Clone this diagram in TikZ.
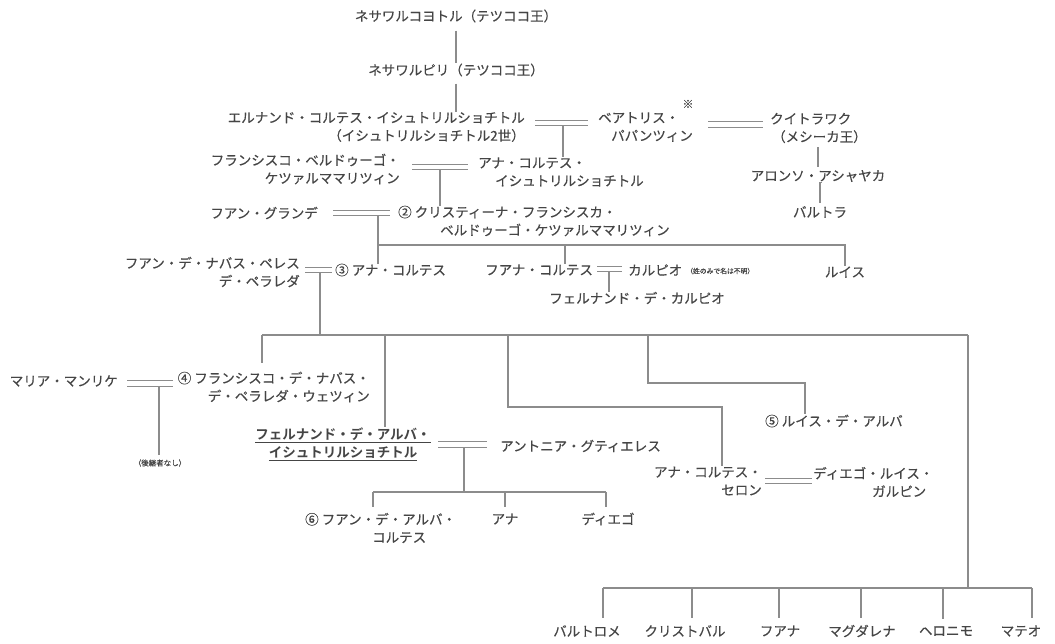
\documentclass[tikz,border=0pt]{standalone}
\usepackage{fontspec}
\newfontfamily\jp[FakeBold=0.35]{Noto Sans CJK JP}
\newfontfamily\jpb{Noto Sans CJK JP Bold}
\definecolor{txtc}{HTML}{454545}
\definecolor{linec}{HTML}{8C8C8C}
\begin{document}
\begin{tikzpicture}[x=1pt,y=-1pt,
  nm/.style={inner sep=0pt, text=txtc, font=\jp\fontsize{13.5}{18}\selectfont},
  ln/.style={draw=linec, line width=1.1pt},
  dbl/.style={draw=linec, line width=1pt, double=white, double distance=4.2pt},
]
\fill[white] (0,0) rectangle (1055,643);
\useasboundingbox (0,0) rectangle (1055,643);

% ---- nodes ----
\node[nm] (A) at (456,16) {ネサワルコヨトル（テツココ王）};
\node[nm] (B) at (456,70) {ネサワルピリ（テツココ王）};
\node[nm, anchor=east, align=right] (C) at (525,127) {エルナンド・コルテス・イシュトリルショチトル\\（イシュトリルショチトル2世）};
\node[nm, anchor=west, align=left] (D) at (598,127) {ベアトリス・\\\hspace*{13pt}パパンツィン};
\node[nm, font=\jp\fontsize{11}{11}\selectfont] (Dn) at (688,104) {※};
\node[nm, anchor=west, align=left] (E) at (770,128) {クイトラワク\\\hspace*{2pt}（メシーカ王）};
\node[nm] (F) at (818,176) {アロンソ・アシャヤカ};
\node[nm] (G) at (820,212) {バルトラ};
\node[nm, anchor=east, align=right] (H) at (400,169) {フランシスコ・ベルドゥーゴ・\\ケツァルママリツィン};
\node[nm, anchor=west, align=left] (I) at (478,172) {アナ・コルテス・\\\hspace*{17pt}イシュトリルショチトル};
\node[nm, anchor=east] (J) at (318,213) {フアン・グランデ};
\node[nm, anchor=west, align=left] (K) at (398,221) {② クリスティーナ・フランシスカ・\\\hspace*{42pt}ベルドゥーゴ・ケツァルママリツィン};
\node[nm, anchor=east, align=right] (M) at (300,272) {フアン・デ・ナバス・ペレス\\デ・ペラレダ};
\node[nm, anchor=west] (L) at (335,270) {③ アナ・コルテス};
\node[nm, anchor=west] (N) at (485,270) {フアナ・コルテス};
\node[nm, anchor=west] (O) at (628,270) {カルピオ};
\node[nm, anchor=west, font=\jp\fontsize{6.8}{7}\selectfont] (On) at (686,271) {（姓のみで名は不明）};
\node[nm] (P) at (637,298) {フェルナンド・デ・カルピオ};
\node[nm] (Q) at (845,272) {ルイス};
\node[nm, anchor=east, align=right] (R) at (370,387) {④ フランシスコ・デ・ナバス・\\デ・ペラレダ・ウェツィン};
\node[nm, anchor=east] (V) at (118,381) {マリア・マンリケ};
\node[nm, font=\jp\fontsize{7.5}{8}\selectfont] (Vn) at (160,463) {（後継者なし）};
\node[nm, align=center, font=\jpb\fontsize{13.5}{18}\selectfont] (S) at (343,444) {\underline{フェルナンド・デ・アルバ・}\\\underline{イシュトリルショチトル}};
\node[nm, anchor=west] (W) at (500,446) {アントニア・グティエレス};
\node[nm, anchor=west, align=left] (X) at (305,528) {⑥ フアン・デ・アルバ・\\\hspace*{67pt}コルテス};
\node[nm] (Y) at (505,519) {アナ};
\node[nm] (Z) at (608,519) {ディエゴ};
\node[nm, anchor=west] (U) at (765,421) {⑤ ルイス・デ・アルバ};
\node[nm, anchor=east, align=right] (T) at (762,481) {アナ・コルテス・\\セロン};
\node[nm, anchor=west, align=left] (AA) at (813,482) {ディエゴ・ルイス・\\\hspace*{59pt}ガルピン};
\node[nm] (b1) at (587,631) {バルトロメ};
\node[nm] (b2) at (685,631) {クリストバル};
\node[nm] (b3) at (780,631) {フアナ};
\node[nm] (b4) at (862,631) {マグダレナ};
\node[nm] (b5) at (946,631) {ヘロニモ};
\node[nm] (b6) at (1021,631) {マテオ};

% ---- coordinates ----
\coordinate (cd1) at (535,123);   \coordinate (cd2) at (588,123);   \coordinate (cdm) at (563,125.6);
\coordinate (de1) at (708,124.5); \coordinate (de2) at (763,124.5);
\coordinate (hi1) at (412,167);   \coordinate (hi2) at (468,167);   \coordinate (him) at (440,169.6);
\coordinate (jk1) at (333,213);   \coordinate (jk2) at (390,213);   \coordinate (jkm) at (378,215.6);
\coordinate (sib) at (378,245);   \coordinate (nd) at (565,245);
\coordinate (ml1) at (305,270);   \coordinate (ml2) at (332,270);   \coordinate (mlm) at (320,272.6);
\coordinate (no1) at (597,269);   \coordinate (no2) at (622,269);   \coordinate (nom) at (609,271.6);
\coordinate (kids) at (320,335);
\coordinate (k1) at (262,335); \coordinate (k2) at (385,335); \coordinate (k3) at (508,335);
\coordinate (k4) at (648,335); \coordinate (k5) at (968,335);
\coordinate (t1) at (508,407); \coordinate (t2) at (722,407);
\coordinate (u1) at (648,383); \coordinate (u2) at (805,383);
\coordinate (bb) at (968,588); \coordinate (bl) at (603,588); \coordinate (br) at (1032,588);
\coordinate (vr1) at (127,383.5); \coordinate (vr2) at (173,383.5); \coordinate (vrm) at (159,386);
\coordinate (sw1) at (438,444.5); \coordinate (sw2) at (487,444.5); \coordinate (swm) at (464,447);
\coordinate (sx) at (464,492); \coordinate (xl) at (373,492); \coordinate (xr) at (606,492);
\coordinate (ta1) at (765,481); \coordinate (ta2) at (812,481);

% ---- connectors ----
\draw[ln, shorten <=8pt] (A.south) -- (B.north);
\draw[ln, shorten <=7pt] (B.south) -- (B.south |- C.north);
\draw[dbl] (cd1) -- (cd2);
\draw[ln] (cdm) -- (cdm |- I.north);
\draw[dbl] (de1) -- (de2);
\draw[ln, shorten <=4pt, shorten >=3pt] (E.south -| F.north) -- (F.north);
\draw[ln, shorten <=4pt, shorten >=3pt] (F.south) -- (F.south -| G.north) -- (G.north);
\draw[dbl] (hi1) -- (hi2);
\draw[ln] (him) -- (him |- K.north);
\draw[dbl] (jk1) -- (jk2);
\draw[ln] (jkm) -- (jkm |- L.north);
\draw[ln] (sib) -| (Q.north);
\draw[ln] (nd) -- (nd |- N.north);
\draw[dbl] (ml1) -- (ml2);
\draw[ln] (mlm) -- (kids);
\draw[dbl] (no1) -- (no2);
\draw[ln] (nom) -- (nom |- P.north);
\draw[ln] (k1) -- (k5);
\draw[ln, shorten >=9pt] (k1) -- (k1 |- R.north);
\draw[ln] (k2) -- (k2 |- S.north);
\draw[ln] (k3) -- (t1) -- (t2) -- (t2 |- T.north);
\draw[ln] (k4) -- (u1) -- (u2) -- (u2 |- U.north);
\draw[ln] (k5) -- (bb);
\draw[ln] (bl) -- (br);
\foreach \n/\x in {b1/603,b2/692,b3/779,b4/861,b5/943,b6/1032}
  \draw[ln, shorten >=7pt] (\x,588) -- (\x,588 |- \n.north);
\draw[dbl] (vr1) -- (vr2);
\draw[ln, shorten >=4pt] (vrm) -- (vrm |- Vn.north);
\draw[dbl] (sw1) -- (sw2);
\draw[ln] (swm) -- (sx);
\draw[ln] (xl) -- (xr);
\draw[ln, shorten >=6pt] (xl) -- (xl |- X.north);
\draw[ln, shorten >=6pt] (505,492) -- (505,492 |- Y.north);
\draw[ln, shorten >=6pt] (xr) -- (xr |- Z.north);
\draw[dbl] (ta1) -- (ta2);
\end{tikzpicture}
\end{document}
